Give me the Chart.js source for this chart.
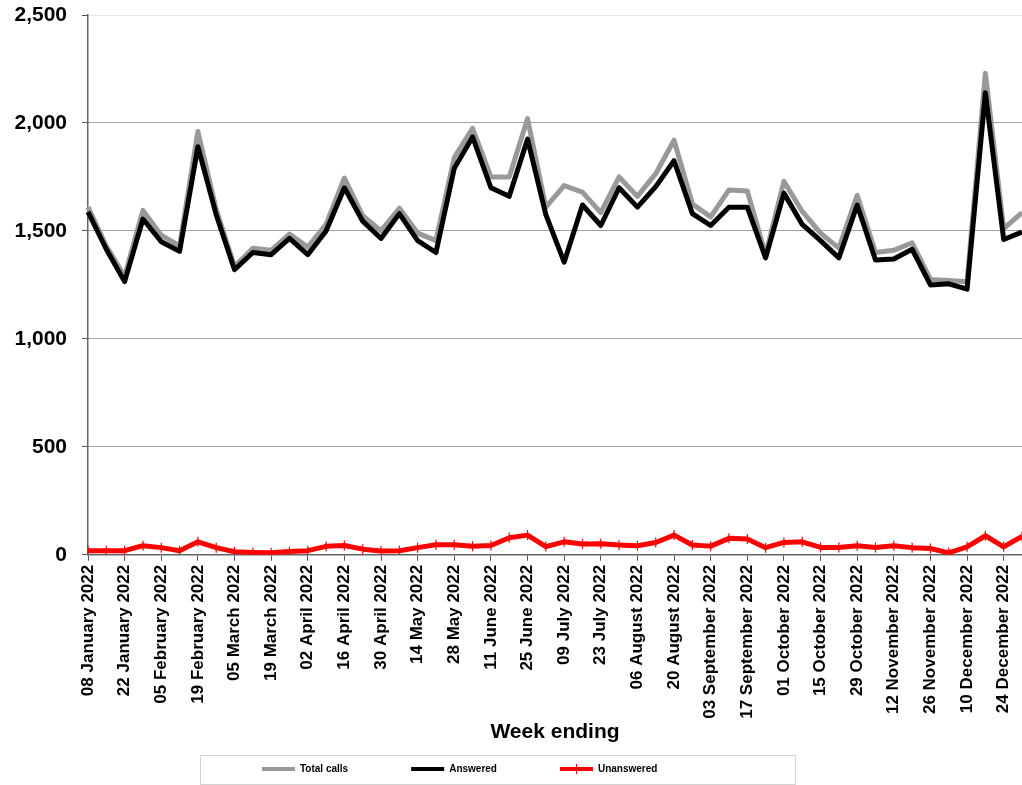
<!DOCTYPE html>
<html>
<head>
<meta charset="utf-8">
<title>Calls by week ending</title>
<script src="https://cdn.jsdelivr.net/npm/chart.js"></script>
<style>
  html, body { margin: 0; padding: 0; background: #fff; overflow: hidden; }
  #wrap { width: 1022px; height: 785px; }
</style>
</head>
<body>
<div id="wrap"><canvas id="graficoLlamadas" width="1022" height="785"></canvas></div>
<script>
const semanas = ['08 January 2022', '15 January 2022', '22 January 2022', '29 January 2022',
    '05 February 2022', '12 February 2022', '19 February 2022', '26 February 2022',
    '05 March 2022', '12 March 2022', '19 March 2022', '26 March 2022',
    '02 April 2022', '09 April 2022', '16 April 2022', '23 April 2022', '30 April 2022',
    '07 May 2022', '14 May 2022', '21 May 2022', '28 May 2022',
    '04 June 2022', '11 June 2022', '18 June 2022', '25 June 2022',
    '02 July 2022', '09 July 2022', '16 July 2022', '23 July 2022', '30 July 2022',
    '06 August 2022', '13 August 2022', '20 August 2022', '27 August 2022',
    '03 September 2022', '10 September 2022', '17 September 2022', '24 September 2022',
    '01 October 2022', '08 October 2022', '15 October 2022', '22 October 2022', '29 October 2022',
    '05 November 2022', '12 November 2022', '19 November 2022', '26 November 2022',
    '03 December 2022', '10 December 2022', '17 December 2022', '24 December 2022', '31 December 2022'];

const totalLlamadas = [1610, 1430, 1290, 1595, 1480, 1430, 1960, 1600, 1335, 1420,
    1410, 1485, 1425, 1530, 1745, 1570, 1500, 1605, 1490, 1455,
    1840, 1975, 1750, 1750, 2020, 1610, 1710, 1680, 1585, 1750,
    1660, 1765, 1920, 1625, 1565, 1690, 1685, 1390, 1730, 1590,
    1490, 1420, 1665, 1400, 1410, 1445, 1275, 1270, 1265, 2230,
    1510, 1585];

const contestadas = [1588, 1415, 1265, 1555, 1450, 1405, 1890, 1575, 1320, 1400,
    1390, 1465, 1390, 1500, 1700, 1545, 1465, 1580, 1455, 1400,
    1790, 1935, 1700, 1660, 1925, 1575, 1355, 1620, 1525, 1700,
    1610, 1705, 1825, 1580, 1525, 1610, 1610, 1375, 1675, 1530,
    1455, 1375, 1620, 1365, 1370, 1415, 1250, 1255, 1230, 2140,
    1460, 1495];

const noContestadas = [19, 19, 19, 42, 33, 19, 60, 33, 14, 11,
    9, 15, 19, 39, 43, 26, 17, 19, 33, 46,
    46, 39, 43, 79, 91, 38, 60, 50, 51, 45,
    42, 57, 91, 45, 40, 76, 73, 33, 57, 60,
    34, 34, 42, 34, 42, 33, 29, 9, 37, 88,
    37, 85];

const ticksY = [0, 500, 1000, 1500, 2000, 2500];

Chart.defaults.font.family = '"Liberation Sans", Arial, sans-serif';
Chart.defaults.font.weight = 'bold';
Chart.defaults.color = '#000';

// marco de la leyenda, como en la hoja original
const marcoLeyenda = {
    id: 'marcoLeyenda',
    afterLayout(chart) {
        const lg = chart.legend;
        lg.left = 199;
        lg.right = 795;
        lg.top = 764 - lg.options.labels.padding;
    },
    afterDraw(chart) {
        const ctx = chart.ctx;
        ctx.save();
        ctx.strokeStyle = '#d4d4d4';
        ctx.lineWidth = 1;
        ctx.strokeRect(200.5, 755.5, 595, 29);
        const hb = chart.legend.legendHitBoxes[2];
        if (hb) {
            const cx = Math.round(hb.left + 16.5) + 0.5;
            ctx.strokeStyle = '#ff0000';
            ctx.beginPath();
            ctx.moveTo(cx, hb.top);
            ctx.lineTo(cx, hb.top + 10);
            ctx.stroke();
        }
        ctx.restore();
    }
};

const ctx = document.getElementById('graficoLlamadas').getContext('2d');
const graficoLlamadas = new Chart(ctx, {
    type: 'line',
    data: {
        labels: semanas,
        datasets: [{
            label: 'Total calls',
            data: totalLlamadas,
            borderColor: '#999999',
            backgroundColor: '#999999',
            borderWidth: 5,
            pointRadius: 0,
            tension: 0,
            borderJoinStyle: 'round',
            order: 3
        }, {
            label: 'Answered',
            data: contestadas,
            borderColor: '#000000',
            backgroundColor: '#000000',
            borderWidth: 5,
            pointRadius: 0,
            tension: 0,
            borderJoinStyle: 'round',
            order: 2
        }, {
            label: 'Unanswered',
            data: noContestadas,
            borderColor: '#ff0000',
            backgroundColor: '#ff0000',
            borderWidth: 5,
            pointStyle: 'line',
            rotation: 90,
            pointRadius: 5,
            pointBorderWidth: 1.2,
            pointBorderColor: '#ff0000',
            tension: 0,
            borderJoinStyle: 'round',
            order: 1
        }]
    },
    options: {
        responsive: false,
        animation: false,
        events: [],
        layout: { autoPadding: false, padding: 0 },
        plugins: {
            tooltip: { enabled: false },
            legend: {
                position: 'bottom',
                align: 'start',
                maxHeight: 32,
                labels: {
                    boxWidth: 33,
                    boxHeight: 4,
                    padding: 63,
                    font: { size: 10, weight: 'bold' },
                    sort: (a, b) => a.datasetIndex - b.datasetIndex,
                    generateLabels: (chart) => Chart.defaults.plugins.legend.labels.generateLabels(chart)
                        .map(l => Object.assign(l, { fillStyle: l.strokeStyle, lineWidth: 0 }))
                }
            }
        },
        scales: {
            x: {
                afterFit: (scale) => { scale.paddingRight = 0; scale.paddingLeft = 0; },
                grid: {
                    drawOnChartArea: false,
                    drawTicks: true,
                    tickLength: 6,
                    tickColor: (c) => (c.index % 2 === 0 ? '#555' : 'rgba(0,0,0,0)')
                },
                border: { color: '#666', width: 1.5 },
                ticks: {
                    autoSkip: false,
                    minRotation: 90,
                    maxRotation: 90,
                    padding: 4,
                    font: { size: 17, weight: 'bold' },
                    callback: function (value, index) {
                        return index % 2 === 0 ? this.getLabelForValue(value) : '';
                    }
                },
                title: {
                    display: true,
                    text: 'Week ending',
                    font: { size: 21, weight: 'bold' },
                    padding: { top: -3, bottom: 8 }
                }
            },
            y: {
                min: ticksY[0],
                max: ticksY[ticksY.length - 1],
                afterFit: (scale) => { scale.width = 88; scale.paddingTop = 15; scale.paddingBottom = 0; },
                afterBuildTicks: (scale) => { scale.ticks = ticksY.map(v => ({ value: v })); },
                grid: {
                    color: (c) => (c.tick && c.tick.value === 2500 ? '#c8c8c8' : '#444'),
                    lineWidth: 1,
                    drawTicks: true,
                    tickLength: 6,
                    tickColor: '#555'
                },
                border: { color: '#666', width: 1.5, dash: [1, 1] },
                ticks: {
                    padding: 15,
                    font: { size: 21, weight: 'bold' },
                    callback: (v) => Number(v).toLocaleString('en-US')
                }
            }
        }
    },
    plugins: [marcoLeyenda]
});
</script>
</body>
</html>
